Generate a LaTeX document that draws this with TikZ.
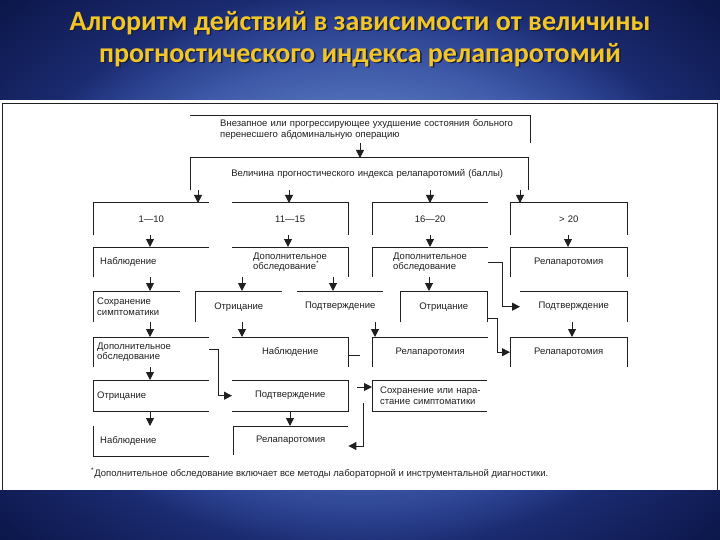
\documentclass[tikz,border=0pt]{standalone}
\usepackage{fontspec}
\setmainfont{Liberation Sans}
\newfontfamily\titlefont{Carlito}
\usetikzlibrary{arrows.meta}
\definecolor{ink}{RGB}{32,32,32}
\definecolor{gold}{RGB}{242,198,38}
\definecolor{tshadow}{RGB}{22,28,62}
\definecolor{bgA}{RGB}{110,145,215}
\definecolor{bgB}{RGB}{82,112,186}
\definecolor{bgC}{RGB}{62,90,168}
\definecolor{bgD}{RGB}{42,64,142}
\definecolor{bgE}{RGB}{27,43,112}
\definecolor{bgF}{RGB}{10,20,70}
\pgfdeclareradialshading{bgshade}{\pgfpoint{0bp}{0bp}}{color(0bp)=(bgA);color(15bp)=(bgB);color(19bp)=(bgC);color(23bp)=(bgD);color(26bp)=(bgE);color(36bp)=(bgF)}
\newcommand{\boxfont}{\fontsize{9.5}{10.5}\selectfont}
\newcommand{\ind}[1]{\hspace*{#1pt}}
\begin{document}
\begin{tikzpicture}[x=1pt,y=-1pt,
  bx/.style={anchor=north west, inner sep=0pt, font=\boxfont, text=ink},
  fr/.style={draw=ink, line width=1pt},
  arr/.style={draw=ink, line width=1pt, -{Triangle[length=8pt,width=8pt]}},
  ttl/.style={font=\titlefont\bfseries\fontsize{28}{32}\selectfont}]
\useasboundingbox (0,0) rectangle (720,540);
\shade[shading=bgshade] (0,0) rectangle (720,540);
% title
\node[ttl, text=tshadow] (t1s) at (361.5,24.5) {Алгоритм действий в зависимости от величины};
\node[ttl, text=gold] (t1) at (360,23) {Алгоритм действий в зависимости от величины};
\node[ttl, text=tshadow] (t2s) at (361.5,56.5) {прогностического индекса релапаротомий};
\node[ttl, text=gold] (t2) at (360,55) {прогностического индекса релапаротомий};
% panel
\fill[white] (0,100) rectangle (720,490);
\draw[fr] (2,490) |- (717,104) -- (717,490);
% boxes
\node[bx, text width=340pt, minimum height=27pt, align=left] (n0) at (190,116)
  {\ind{30}\mbox{Внезапное или прогрессирующее ухудшение состояния больного}\\\ind{30}\mbox{перенесшего абдоминальную операцию}};
\node[bx, text width=338pt, minimum height=32pt, align=center] (val) at (190,158)
  {\ind{16}\mbox{Величина прогностического индекса релапаротомий (баллы)}};
\node[bx, text width=116pt, minimum height=32pt, align=center] (rA) at (93,203) {1—10};
\node[bx, text width=116pt, minimum height=32pt, align=center] (rB) at (232,203) {11—15};
\node[bx, text width=116pt, minimum height=32pt, align=center] (rC) at (372,203) {16—20};
\node[bx, text width=117pt, minimum height=32pt, align=center] (rD) at (510,203) {> 20};
% row 3
\node[bx, text width=116pt, minimum height=30pt, align=left] (a3) at (93,247) {\ind{7}Наблюдение};
\node[bx, text width=116pt, minimum height=30pt, align=left] (b3) at (232,247) {\ind{21}Дополнительное\\\ind{21}обследование\textsuperscript{*}};
\node[bx, text width=116pt, minimum height=30pt, align=left] (c3) at (372,247) {\ind{21}Дополнительное\\\ind{21}обследование};
\node[bx, text width=117pt, minimum height=30pt, align=center] (d3) at (510,247) {Релапаротомия};
% row 4
\node[bx, text width=87pt, minimum height=31pt, align=left] (a4) at (93,291) {\ind{4}Сохранение\\\ind{4}симптоматики};
\node[bx, text width=87pt, minimum height=31pt, align=center] (b4a) at (195,291) {Отрицание};
\node[bx, text width=86pt, minimum height=31pt, align=center] (b4b) at (297,291) {Подтверждение};
\node[bx, text width=87pt, minimum height=31pt, align=center] (c4) at (400,291) {Отрицание};
\node[bx, text width=107pt, minimum height=31pt, align=center] (d4) at (520,291) {Подтверждение};
% row 5
\node[bx, text width=116pt, minimum height=30pt, align=left] (a5) at (93,337) {\ind{4}Дополнительное\\\ind{4}обследование};
\node[bx, text width=116pt, minimum height=30pt, align=center] (b5) at (232,337) {Наблюдение};
\node[bx, text width=116pt, minimum height=30pt, align=center] (c5) at (372,337) {Релапаротомия};
\node[bx, text width=117pt, minimum height=30pt, align=center] (d5) at (510,337) {Релапаротомия};
% row 6
\node[bx, text width=116pt, minimum height=31pt, align=left] (a6) at (93,380) {\ind{4}Отрицание};
\node[bx, text width=116pt, minimum height=31pt, align=center] (b6) at (232,380) {Подтверждение};
\node[bx, text width=115pt, minimum height=31pt, align=left] (c6) at (372,380) {\ind{8}\mbox{Сохранение или нара-}\\\ind{8}\mbox{стание симптоматики}};
% row 7
\node[bx, text width=116pt, minimum height=30pt, align=left] (a7) at (93,426) {\ind{7}Наблюдение};
\node[bx, text width=115pt, minimum height=29pt, align=center] (b7) at (233,426) {Релапаротомия};
% footnote
\node[anchor=west, inner sep=0pt, font=\boxfont, text=ink] (fn) at (91,473)
  {\textsuperscript{*}Дополнительное обследование включает все методы лабораторной и инструментальной диагностики.};
% frames
\draw[fr] (n0.north west) -| (n0.south east);
\foreach \n in {rA,rC,a3,c3,a4,b4a,a5,c5,b7}
  \draw[fr] (\n.south west) |- (\n.north east);
\foreach \n in {rB,b3,d4,b5}
  \draw[fr] (\n.north west) -| (\n.south east);
\foreach \n in {val,rD,d3,c4,d5}
  \draw[fr] (\n.south west) |- (\n.north east) -- (\n.south east);
\draw[fr] (b4b.north west) -- (b4b.north east);
\foreach \n in {a6,c6}
  \draw[fr] (\n.north east) -| (\n.south west) -- (\n.south east);
\draw[fr] (b6.north west) -| (b6.south east) -- (b6.south west);
\draw[fr] (a7.north west) |- (a7.south east);
% arrows
\draw[arr] (n0.south -| 360,0) -- (val.north -| 360,0);
\foreach \x/\t in {198/rA,289/rB,430/rC,520/rD}
  \draw[arr] (val.south -| \x,0) -- (\t.north -| \x,0);
\foreach \x/\s/\t in {150/rA/a3,288/rB/b3,430/rC/c3,568/rD/d3,
                      150/a3/a4,242/b3/b4a,333/b3/b4b,429/c3/c4,
                      150/a4/a5,242/b4a/b5,375/b4b/c5,572/d4/d5,
                      150/a5/a6,150/a6/a7,290/b6/b7}
  \draw[arr] (\s.south -| \x,0) -- (\t.north -| \x,0);
\draw[arr] (c3.east) -- ++(14,0) |- (d4.west);
\draw[arr] (c4.east |- 0,318) -- ++(10,0) |- (d5.west);
\draw[arr] (a5.east |- 0,349) -- ++(9,0) |- (b6.west);
\draw[fr] (b5.east |- 0,355) -- ++(12,0) coordinate (b5stub);
\draw[arr, shorten <=9pt] (b6.east |- 0,387) -- (c6.west |- 0,387);
\coordinate (c6out) at (363,403);
\draw[arr] (c6out) |- (b7.east |- 0,446);
\end{tikzpicture}
\end{document}
